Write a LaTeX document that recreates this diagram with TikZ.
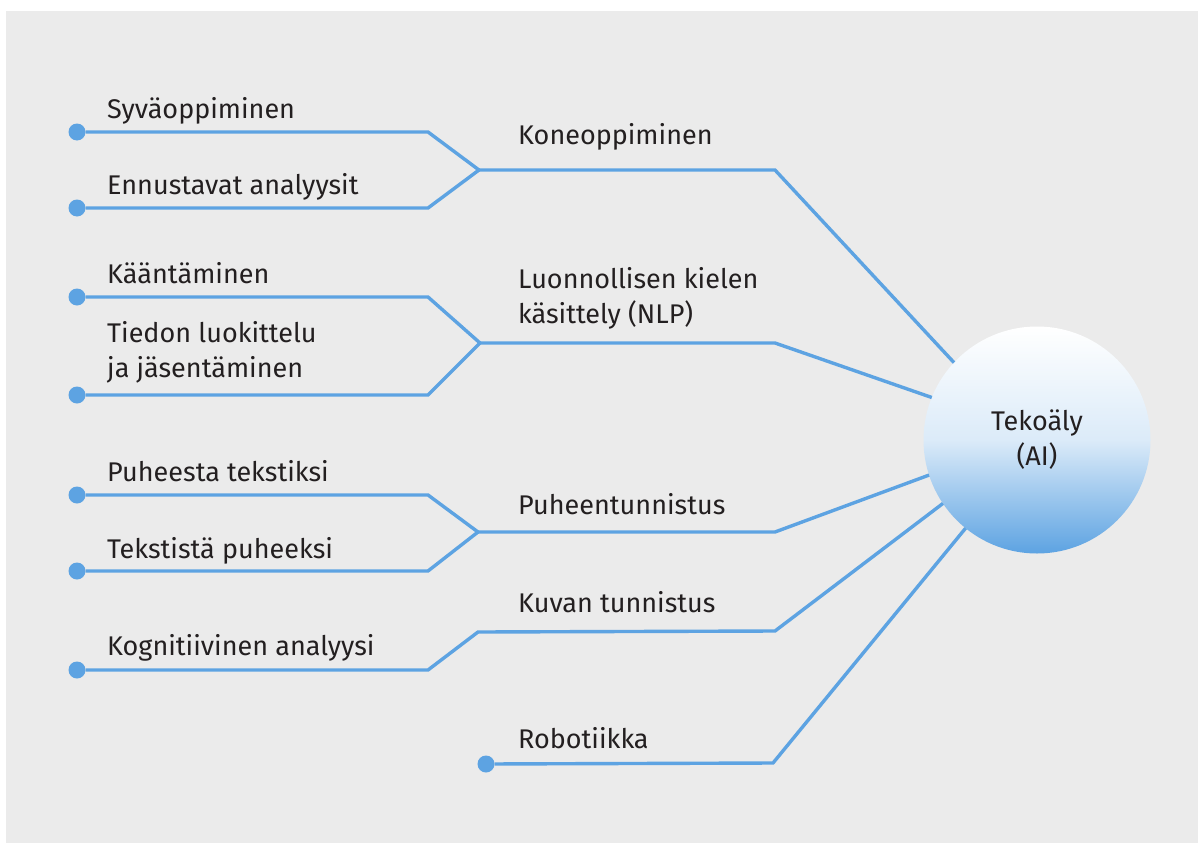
\documentclass[tikz,border=0pt]{standalone}
\usepackage{fontspec}
\setmainfont{Fira Sans}
\definecolor{bgcol}{HTML}{EBEBEB}
\definecolor{lineblue}{HTML}{5DA3E2}
\definecolor{txt}{HTML}{231F20}
\begin{document}
\begin{tikzpicture}[x=1pt,y=-1pt,
  conn/.style={draw=lineblue,line width=3.4pt,line join=miter},
  dot/.style={circle,fill=lineblue,inner sep=0pt,minimum size=17pt,outer sep=0pt},
  lbl/.style={anchor=base west,inner sep=0pt,text=txt,font=\fontsize{27}{35}\selectfont},
  hub/.style={circle,minimum size=227pt,inner sep=0pt,outer sep=0pt,
    top color=white,bottom color=lineblue,middle color=lineblue!22!white,
    text=txt,align=center,font=\fontsize{27}{35}\selectfont}]
\useasboundingbox (0,0) rectangle (1198,843);
\fill[bgcol] (6,11) rectangle (1198,843);

% hub
\node[hub] (ai) at (1037,440) {Tekoäly\\(AI)};

% dots
\node[dot] (d1) at (77,132) {};
\node[dot] (d2) at (77,208) {};
\node[dot] (d3) at (77,297) {};
\node[dot] (d4) at (77,395) {};
\node[dot] (d5) at (77,495) {};
\node[dot] (d6) at (77,571) {};
\node[dot] (d7) at (77,670) {};
\node[dot] (d8) at (486,764) {};

% bends and junctions
\coordinate (b1) at (428,132);
\coordinate (b2) at (428,208);
\coordinate (j1) at (479,170);
\coordinate (h1) at (775,170);
\coordinate (b3) at (428,297);
\coordinate (b4) at (428,395);
\coordinate (j2) at (480,343);
\coordinate (h2) at (775,343);
\coordinate (b5) at (428,495);
\coordinate (b6) at (428,571);
\coordinate (j3) at (478,532);
\coordinate (h3) at (775,532);
\coordinate (b7) at (428,670);
\coordinate (j4) at (478,632);
\coordinate (h4) at (775,631);
\coordinate (h5) at (773,763);

% connectors
\draw[conn] (d1) -- (b1) -- (j1);
\draw[conn] (d2) -- (b2) -- (j1);
\draw[conn] (j1) -- (h1) -- (ai.137.5);
\draw[conn] (d3) -- (b3) -- (j2);
\draw[conn] (d4) -- (b4) -- (j2);
\draw[conn] (j2) -- (h2) -- (ai.158.7);
\draw[conn] (d5) -- (b5) -- (j3);
\draw[conn] (d6) -- (b6) -- (j3);
\draw[conn] (j3) -- (h3) -- (ai.198.4);
\draw[conn] (d7) -- (b7) -- (j4) -- (h4) -- (ai.214.2);
\draw[conn] (d8) -- (h5) -- (ai.231.4);

% labels
\node[lbl] (l1) at (107,118) {Syväoppiminen};
\node[lbl] (l2) at (107,194) {Ennustavat analyysit};
\node[lbl] (l3) at (518,144) {Koneoppiminen};
\node[lbl] (l4) at (107,283) {Kääntäminen};
\node[lbl] (l5) at (107,342) {Tiedon luokittelu};
\node[lbl] (l6) at (107,377) {ja jäsentäminen};
\node[lbl] (l7) at (518,288) {Luonnollisen kielen};
\node[lbl] (l8) at (518,323) {käsittely (NLP)};
\node[lbl] (l9) at (107,481) {Puheesta tekstiksi};
\node[lbl] (l10) at (107,558) {Tekstistä puheeksi};
\node[lbl] (l11) at (518,514) {Puheentunnistus};
\node[lbl] (l12) at (518,612) {Kuvan tunnistus};
\node[lbl] (l13) at (107,655) {Kognitiivinen analyysi};
\node[lbl] (l14) at (518,748) {Robotiikka};
\end{tikzpicture}
\end{document}
